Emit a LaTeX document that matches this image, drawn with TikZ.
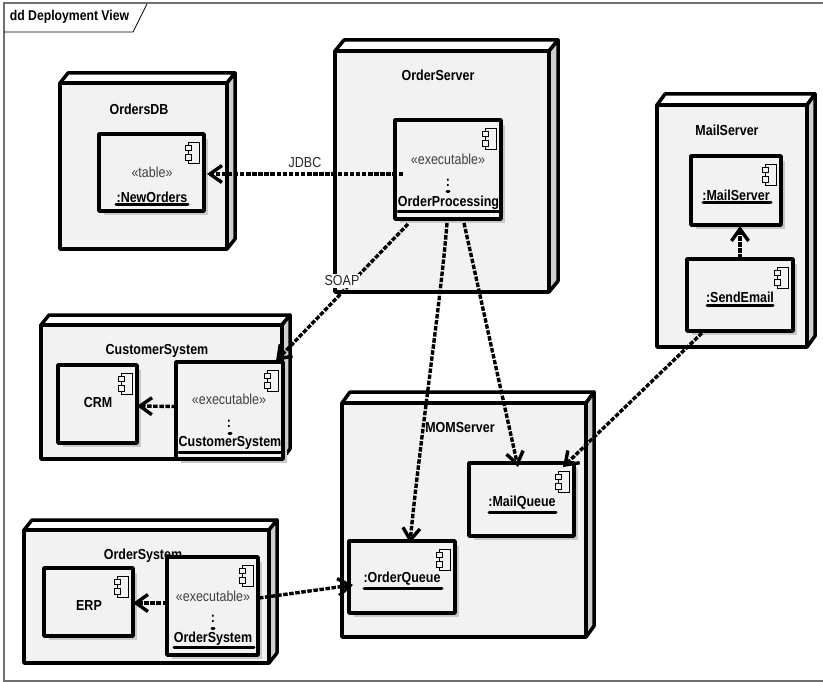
\documentclass[tikz,border=0pt]{standalone}
\usepackage{fontspec}
\setmainfont[FakeStretch=0.86]{Liberation Sans}
\usetikzlibrary{arrows.meta}
\definecolor{nodefill}{HTML}{F2F2F2}
\definecolor{sidefill}{HTML}{D0D0D0}
\definecolor{shadowc}{HTML}{C8C8C8}
\definecolor{framec}{HTML}{707070}
\tikzset{
  frameline/.style={draw=framec,line width=1.4pt},
  nodebody/.style={draw=black,fill=nodefill,line width=3.5pt,line join=round,outer sep=0pt,inner sep=0pt},
  nodepart/.style={draw=black,line width=3.5pt,line join=round},
  compbody/.style={draw=black,fill=nodefill,line width=3.5pt,line join=round,outer sep=0pt,inner sep=0pt},
  iconline/.style={draw=black,line width=0.8pt,fill=nodefill},
  namelabel/.style={font=\fontsize{14.5}{16}\selectfont\bfseries,inner sep=0pt},
  stereo/.style={font=\fontsize{14.5}{16}\selectfont,text=black!75,inner sep=0pt},
  uline/.style={draw=black,line width=3pt,line cap=round},
  dep/.style={draw=black,line width=3.4pt,dash pattern=on 4.5pt off 1.6pt,-{Straight Barb[length=12pt,width=17pt,line width=3.4pt]}},
  conlabel/.style={font=\fontsize{14.5}{16}\selectfont,text=black!85,fill=white,inner xsep=1pt,inner ysep=2pt},
}
\newcommand{\deploynode}[7]{% name,l,t,r,b,dx,dy
  \path[fill=white,nodepart] (#2,#3) -- (#2+#6,#3-#7) -- (#4+#6,#3-#7) -- (#4,#3) -- cycle;
  \path[fill=sidefill,nodepart] (#4,#3) -- (#4+#6,#3-#7) -- (#4+#6,#5-#7) -- (#4,#5) -- cycle;
  \pgfmathsetmacro{\boxw}{#4-#2}\pgfmathsetmacro{\boxh}{#5-#3}
  \node[nodebody,minimum width=\boxw pt,minimum height=\boxh pt] (#1) at ({(#2+#4)/2},{(#3+#5)/2}) {};
}
\newcommand{\compbox}[5]{% name,l,t,r,b
  \fill[shadowc] (#2+5,#3+5) rectangle (#4+4,#5+4);
  \pgfmathsetmacro{\boxw}{#4-#2}\pgfmathsetmacro{\boxh}{#5-#3}
  \node[compbody,minimum width=\boxw pt,minimum height=\boxh pt] (#1) at ({(#2+#4)/2},{(#3+#5)/2}) {};
  \path[iconline] (#4-16,#3+8) rectangle (#4-5,#3+29);
  \path[iconline] (#4-19,#3+11) rectangle (#4-13,#3+16);
  \path[iconline] (#4-19,#3+20) rectangle (#4-13,#3+26);
}
\begin{document}
\begin{tikzpicture}[x=1pt,y=-1pt]
\useasboundingbox (0,0) rectangle (823,682);
% frame
\path[frameline] (823,3) -- (4,3) -- (4,681) -- (823,681);
\node[font=\fontsize{14.2}{16}\selectfont\bfseries,inner sep=0pt] (title) at (69.5,17) {dd Deployment View};
\path[draw=black,line width=0.8pt] (4,32) -- (133,32) -- (147,4);
% deployment nodes
\deploynode{ordersdb}{60}{83}{227}{249}{8}{10}
\deploynode{orderserver}{335}{51}{549}{292}{9}{11}
\deploynode{customersys}{41}{325}{282}{459}{8}{10}
\deploynode{ordersys}{24}{530}{269}{663}{8}{10}
\deploynode{momserver}{342}{403}{586}{637}{8}{11}
\deploynode{mailserver}{657}{105}{807}{347}{8}{11}
% node names
\node[namelabel] (n1) at (139,109) {OrdersDB};
\node[namelabel] (n2) at (438,75) {OrderServer};
\node[namelabel] (n3) at (157,351) {CustomerSystem};
\node[namelabel] (n4) at (143,556) {OrderSystem};
\node[namelabel] (n5) at (460,428) {MOMServer};
\node[namelabel] (n6) at (727,130) {MailServer};
% components
\compbox{neworders}{99}{134}{204}{211}
\compbox{proc}{395}{120}{501}{219}
\compbox{crm}{58}{365}{137}{443}
\compbox{custexe}{176}{362}{283}{459}
\compbox{erp}{44}{568}{133}{636}
\compbox{ordexe}{167}{557}{258}{655}
\compbox{mailq}{469}{463}{574}{536}
\compbox{orderq}{349}{541}{455}{613}
\compbox{mailsrv}{691}{156}{781}{225}
\compbox{sendmail}{687}{259}{793}{331}
% component texts
\node[stereo] (t1) at (152,172) {«table»};
\node[namelabel] (t2) at (152,197) {:NewOrders};
\path[uline] (116,205) -- (188,205);
\node[stereo] (t3) at (448,159) {«executable»};
\node[namelabel] (t4) at (448,183) {:};
\path[uline] (447,192) -- (449,192);
\node[namelabel] (t5) at (448.5,203) {OrderProcessing};
\path[uline] (398,212) -- (501,212);
\node[namelabel] (t6) at (98,403) {CRM};
\node[stereo] (t7) at (229,399) {«executable»};
\node[namelabel] (t8) at (229,424) {:};
\path[uline] (229,433) -- (231,433);
\node[namelabel] (t9) at (230,443) {CustomerSystem};
\path[uline] (179,452) -- (282,452);
\node[namelabel] (t10) at (89,606) {ERP};
\node[stereo] (t11) at (213,596) {«executable»};
\node[namelabel] (t12) at (213,619) {:};
\path[uline] (212,628) -- (214,628);
\node[namelabel] (t13) at (213,639) {OrderSystem};
\path[uline] (174,647) -- (254,647);
\node[namelabel] (t14) at (522,503) {:MailQueue};
\path[uline] (489,512) -- (556,512);
\node[namelabel] (t15) at (402,579) {:OrderQueue};
\path[uline] (364,588) -- (442,588);
\node[namelabel] (t16) at (736,195) {:MailServer};
\path[uline] (703,203) -- (771,203);
\node[namelabel] (t17) at (740,297) {:SendEmail};
\path[uline] (707,305) -- (773,305);
% connectors
\path[dep] ([shift={(8pt,-4.5pt)}]proc.west) -- ([shift={(3pt,-1.5pt)}]neworders.east);
\path[dep] ([shift={(-40pt,-5pt)}]proc.south) -- ([shift={(46.5pt,1pt)}]custexe.north);
\path[dep] ([shift={(-1pt,-4pt)}]proc.south) .. controls +(-6,77) and +(10,-103) .. ([shift={(8pt,-2pt)}]orderq.north);
\path[dep] ([shift={(16pt,-4pt)}]proc.south) -- ([shift={(-3.5pt,-4pt)}]mailq.north);
\path[dep] ([shift={(-38pt,-2pt)}]sendmail.south) -- ([shift={(41.5pt,-4pt)}]mailq.north);
\path[dep] ([shift={(0pt,4pt)}]custexe.west) -- ([shift={(0pt,-2pt)}]crm.east);
\path[dep] ([shift={(0pt,3pt)}]ordexe.west) -- ([shift={(0pt,-1pt)}]erp.east);
\path[dep] ([shift={(1pt,8pt)}]ordexe.east) -- ([shift={(4pt,-8pt)}]orderq.west);
\path[dep] (sendmail.north) -- ([shift={(4pt,-1pt)}]mailsrv.south);
% connector labels
\node[conlabel] (jdbc) at (305,163) {JDBC};
\node[conlabel] (soap) at (342,281) {SOAP};
\end{tikzpicture}
\end{document}
